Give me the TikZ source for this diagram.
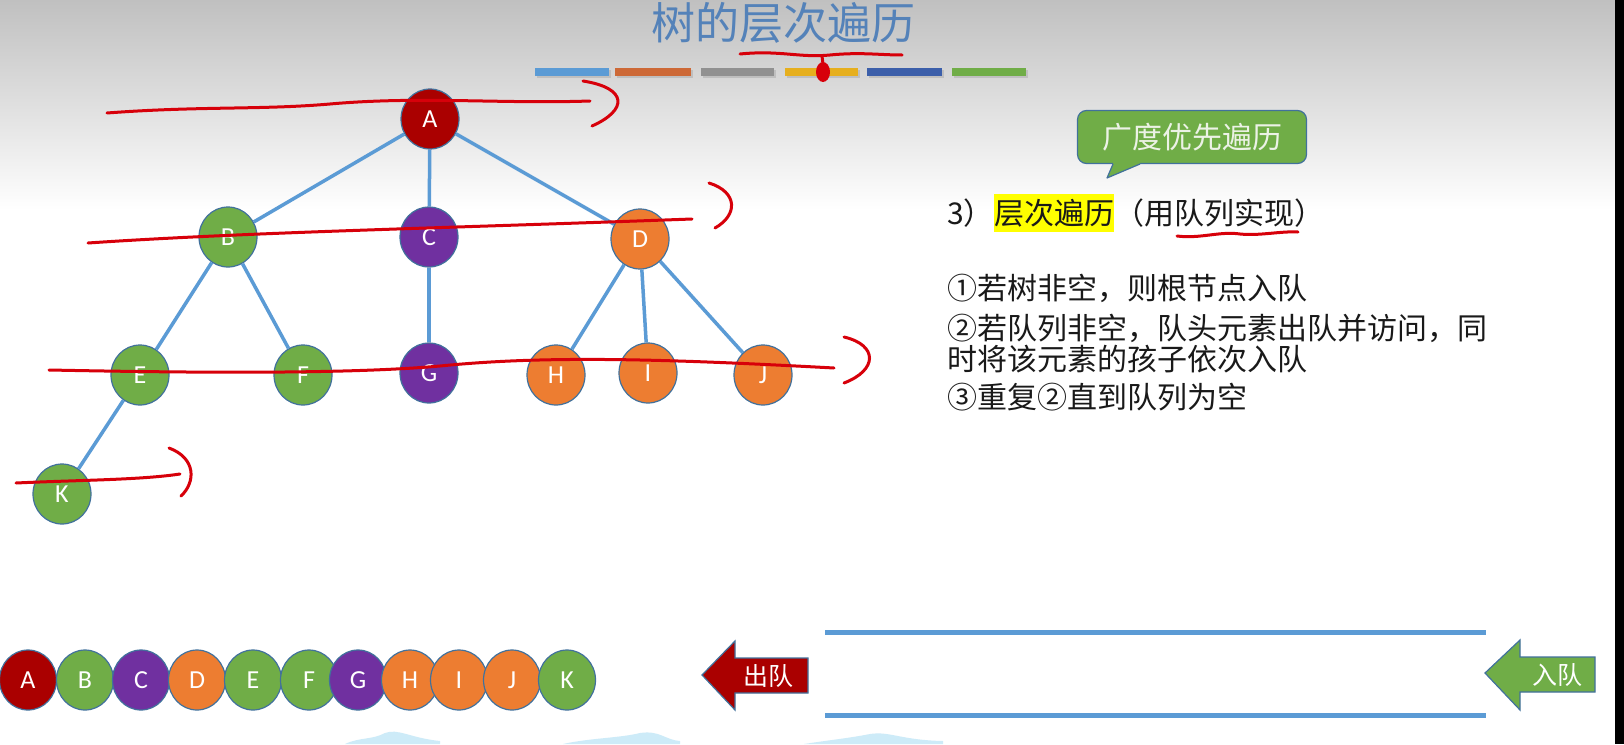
\documentclass[tikz,border=0pt]{standalone}
\usepackage{fontspec}
\setmainfont{Carlito}
\newfontfamily\cjk{Noto Sans CJK SC}
\usetikzlibrary{shapes.geometric,positioning}

\definecolor{rootred}{RGB}{170,0,0}
\definecolor{leafgreen}{RGB}{112,173,71}
\definecolor{midpurple}{RGB}{112,48,160}
\definecolor{warmorange}{RGB}{237,125,49}
\definecolor{nodeedge}{RGB}{65,113,156}
\definecolor{edgeblue}{RGB}{91,155,213}
\definecolor{inkred}{RGB}{215,0,10}
\definecolor{titleblue}{RGB}{84,130,185}
\definecolor{hlyellow}{RGB}{255,255,0}
\definecolor{calltext}{RGB}{236,242,230}
\definecolor{barorange}{RGB}{205,105,55}
\definecolor{bargray}{RGB}{145,145,145}
\definecolor{baryellow}{RGB}{230,175,30}
\definecolor{bardark}{RGB}{60,95,170}
\definecolor{cloudblue}{RGB}{205,235,248}

\begin{document}
\begin{tikzpicture}[
    x=1pt, y=-1pt,
    vertex/.style={ellipse, draw=nodeedge, line width=1.2pt,
                   minimum width=58pt, minimum height=60pt, inner sep=0pt,
                   text=white, font=\fontsize{26}{26}\selectfont},
    ball/.style={vertex, minimum width=57pt},
    edge/.style={draw=edgeblue, line width=3.5pt},
    hand/.style={draw=inkred, line width=3pt, line cap=round, line join=round},
    qline/.style={draw=edgeblue, line width=5pt},
    body/.style={anchor=west, inner sep=0pt, text height=26pt, text depth=4pt,
                 text=black!90, font=\cjk\fontsize{30}{30}\selectfont},
    callbox/.style={rectangle, rounded corners=9pt, fill=leafgreen, draw=nodeedge,
                    line width=1.2pt, minimum width=229pt, minimum height=53pt,
                    text=calltext, font=\cjk\fontsize{30}{30}\selectfont},
    tag/.style={text=white, inner sep=0pt, font=\cjk\fontsize{25}{25}\selectfont}
]
    \useasboundingbox (0,0) rectangle (1624,744);
    \fill[white] (0,0) rectangle (1624,744);
    \shade[top color={rgb,255:red,192;green,192;blue,192}, bottom color=white] (0,0) rectangle (1615,210);
    \fill[black] (1615,0) rectangle (1624,744);

    \node[font=\cjk\fontsize{44}{44}\selectfont, text=titleblue] (title) at (783,23) {树的层次遍历};
    \foreach \c/\a/\b in {edgeblue/535/609, barorange/615/691, bargray/701/774,
                          baryellow/785/858, bardark/867/942, leafgreen/952/1026} {
        \fill[black!25] (\a+2,70) rectangle (\b+2,78);
        \fill[\c] (\a,68) rectangle (\b,76);
    }

    \node[vertex, fill=rootred] (A) at (430,119) {A};
    \node[vertex, fill=leafgreen] (B) at (228,237) {B};
    \node[vertex, fill=midpurple] (C) at (429,237) {C};
    \node[vertex, fill=warmorange] (D) at (640,239) {D};
    \node[vertex, fill=leafgreen] (E) at (140,375) {E};
    \node[vertex, fill=leafgreen] (F) at (303,375) {F};
    \node[vertex, fill=midpurple] (G) at (429,373) {G};
    \node[vertex, fill=warmorange] (H) at (556,375) {H};
    \node[vertex, fill=warmorange] (I) at (648,373) {I};
    \node[vertex, fill=warmorange] (J) at (763,375) {J};
    \node[vertex, fill=leafgreen] (K) at (62,494) {K};

    \foreach \a/\b in {A/B, A/C, A/D, B/E, B/F, C/G, D/H, D/I, D/J, E/K}
        \draw[edge] (\a) -- (\b);

    \node[callbox] (bfs) at (1192,137) {广度优先遍历};
    \fill[leafgreen] (1113,161) -- (1113,164) -- (1107,178) -- (1140,164) -- (1140,161) -- cycle;
    \draw[nodeedge, line width=1.2pt, line join=round] (1113,164) -- (1107,178) -- (1140,164);

    \node[body] (num) at (947,213) {3）};
    \node[body, fill=hlyellow, inner ysep=4pt, right=0pt of num] (hl) {层次遍历};
    \node[body, right=0pt of hl] (how) {（用队列实现）};

    \node[body] (rule1) at (947,288) {①若树非空，则根节点入队};
    \node[body] (rule2) at (947,328) {②若队列非空，队头元素出队并访问，同};
    \node[body] (rule2b) at (947,359) {时将该元素的孩子依次入队};
    \node[body] (rule3) at (947,397) {③重复②直到队列为空};

    \foreach \n/\c/\x in {A/rootred/28, B/leafgreen/85, C/midpurple/141, D/warmorange/197,
                          E/leafgreen/253, F/leafgreen/309, G/midpurple/358, H/warmorange/410,
                          I/warmorange/459, J/warmorange/512, K/leafgreen/567}
        \node[ball, fill=\c] (q\n) at (\x,680) {\n};

    \draw[qline] (825,632) -- (1486,632);
    \draw[qline] (825,715) -- (1486,715);

    \filldraw[fill=rootred, draw=nodeedge, line width=1.2pt]
        (702,675) -- (735,641) -- (735,658) -- (808,658) -- (808,693) -- (735,693) -- (735,710) -- cycle;
    \node[tag] (deq) at (768,676) {出队};
    \filldraw[fill=leafgreen, draw=nodeedge, line width=1.2pt]
        (1485,673) -- (1520,640) -- (1520,657) -- (1595,657) -- (1595,692) -- (1520,692) -- (1520,710) -- cycle;
    \node[tag] (enq) at (1557,675) {入队};

    \fill[cloudblue] (345,744) .. controls (360,737) and (372,740) .. (385,733)
        .. controls (398,728) and (410,738) .. (440,741) -- (440,744) -- cycle;
    \fill[cloudblue] (563,744) .. controls (590,738) and (620,738) .. (640,733)
        .. controls (660,730) and (665,740) .. (680,741) -- (680,744) -- cycle;
    \fill[cloudblue] (804,744) .. controls (830,740) and (850,738) .. (870,734)
        .. controls (890,731) and (900,740) .. (943,741) -- (943,744) -- cycle;

    \draw[hand] (107,113) .. controls (200,106) and (260,110) .. (330,104)
        .. controls (420,96) and (500,104) .. (590,101);
    \draw[hand] (583,81) .. controls (628,88) and (628,110) .. (592,126);
    \draw[hand] (88,243) .. controls (250,232) and (450,228) .. (692,219);
    \draw[hand] (709,183) .. controls (738,192) and (738,215) .. (715,228);
    \draw[hand] (49,370) .. controls (200,373) and (350,374) .. (440,366)
        .. controls (540,356) and (650,358) .. (834,368);
    \draw[hand] (844,337) .. controls (878,345) and (878,370) .. (844,383);
    \draw[hand] (16,483) .. controls (80,480) and (140,480) .. (180,474);
    \draw[hand] (169,448) .. controls (196,458) and (196,482) .. (181,496);
    \draw[hand] (740,54) .. controls (780,50) and (800,58) .. (830,55)
        .. controls (860,52) and (880,55) .. (902,55);
    \draw[hand] (822,56) -- (823,64);
    \fill[inkred] (823,72) ellipse (7 and 10);
    \draw[hand] (1177,236) .. controls (1200,239) and (1220,231) .. (1240,234)
        .. controls (1260,236) and (1280,231) .. (1298,232);
\end{tikzpicture}
\end{document}
